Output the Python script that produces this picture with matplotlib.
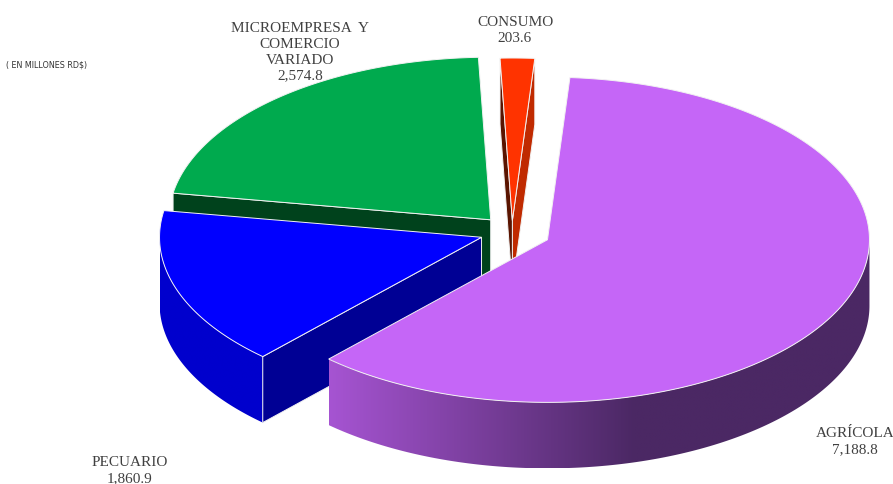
import numpy as np
import matplotlib.pyplot as plt
from matplotlib.patches import Polygon
from matplotlib.colors import to_rgb

# Datos (en millones RD$)
categorias = ['AGRÍCOLA', 'PECUARIO', 'MICROEMPRESA  Y\nCOMERCIO\nVARIADO', 'CONSUMO']
valores = [7188.8, 1860.9, 2574.8, 203.6]
textos_valor = ['7,188.8', '1,860.9', '2,574.8', '203.6']

# Colores: cara superior, lateral claro, lateral oscuro, cara radial
color_top = ['#C566F7', '#0000FF', '#00AA4E', '#FF3300']
color_lado_claro = ['#A654D2', '#0000CD', '#007A36', '#C02A00']
color_lado_oscuro = ['#4B2864', '#0000CD', '#007A36', '#C02A00']
color_radial = ['#5A2E78', '#000094', '#00421C', '#5A1400']
explode = [0.12, 0.10, 0.10, 0.07]

# Geometría del pastel 3D (en píxeles)
cx, cy = 512, 233
R = 322
tilt = 0.505
D = 66
inicio = 86.0


def proj(x, y, z=0.0):
    return cx + R * x, cy - R * tilt * y + z


fig = plt.figure(figsize=(8.93, 4.85), dpi=100)
ax = fig.add_axes([0, 0, 1, 1])
ax.set_xlim(0, 893)
ax.set_ylim(485, 0)
ax.axis('off')

total = sum(valores)
fracs = [v / total for v in valores]
angulos = []
acum = 0.0
for f in fracs:
    a_ini = inicio - acum * 360
    a_fin = a_ini - f * 360
    angulos.append((a_fin, a_ini))
    acum += f

borde = dict(edgecolor='#F2F2F2', linewidth=0.7)

# Orden de dibujo: del fondo hacia el frente
for i in [3, 2, 1, 0]:
    a1, a2 = angulos[i]
    mid = np.radians((a1 + a2) / 2)
    ox, oy = explode[i] * np.cos(mid), explode[i] * np.sin(mid)
    th = np.radians(np.linspace(a1, a2, 400))

    # Lateral curvo (solo parte frontal), con degradado horizontal
    frente = th[np.sin(th) < 0]
    if len(frente) > 1:
        arriba = [proj(ox + np.cos(t), oy + np.sin(t)) for t in frente]
        abajo = [proj(ox + np.cos(t), oy + np.sin(t), D) for t in frente[::-1]]
        lado = Polygon(arriba + abajo, closed=True, facecolor='none',
                       edgecolor='none')
        ax.add_patch(lado)
        xs = np.array([p[0] for p in arriba])
        x0, x1 = xs.min(), xs.max()
        ys = [p[1] for p in arriba + abajo]
        xg = np.linspace(x0, x1, 400)
        cosv = (xg - (cx + R * ox)) / R
        t = np.clip((cosv + 0.68) / 0.95, 0, 1)[:, None]
        c1 = np.array(to_rgb(color_lado_claro[i]))
        c2 = np.array(to_rgb(color_lado_oscuro[i]))
        img = (c1 + (c2 - c1) * t)[None, :, :]
        im = ax.imshow(img, extent=(x0, x1, max(ys), min(ys)), aspect='auto',
                       interpolation='bilinear', zorder=1)
        im.set_clip_path(lado)

    # Caras radiales visibles
    for ang, normal in [(a1, a1 - 90), (a2, a2 + 90)]:
        if np.sin(np.radians(normal)) >= 0:
            continue
        r = np.radians(ang)
        v0 = proj(ox, oy)
        e0 = proj(ox + np.cos(r), oy + np.sin(r))
        e1 = proj(ox + np.cos(r), oy + np.sin(r), D)
        v1 = proj(ox, oy, D)
        cr = color_radial[i]
        if i == 3 and ang == a1:
            cr = '#C02A00'
        ax.add_patch(Polygon([v0, e0, e1, v1], closed=True, facecolor=cr,
                             zorder=1, **borde))

    # Cara superior
    pts = [proj(ox, oy)] + [proj(ox + np.cos(t), oy + np.sin(t)) for t in th]
    ax.add_patch(Polygon(pts, closed=True, facecolor=color_top[i], zorder=1,
                         **borde))

# Etiquetas
fuente = dict(family='Liberation Serif', fontsize=11, color='#404040',
              ha='center', va='center', linespacing=1.3)
posiciones = [(855, 442), (130, 471), (300, 52), (515, 30)]
for cat, val, (x, y) in zip(categorias, textos_valor, posiciones):
    ax.text(x, y, f'{cat}\n{val}', **fuente)

ax.text(6, 65, '( EN MILLONES RD$)', fontsize=5.8, color='#333333',
        ha='left', va='center')

plt.savefig('out.png', dpi=100)
